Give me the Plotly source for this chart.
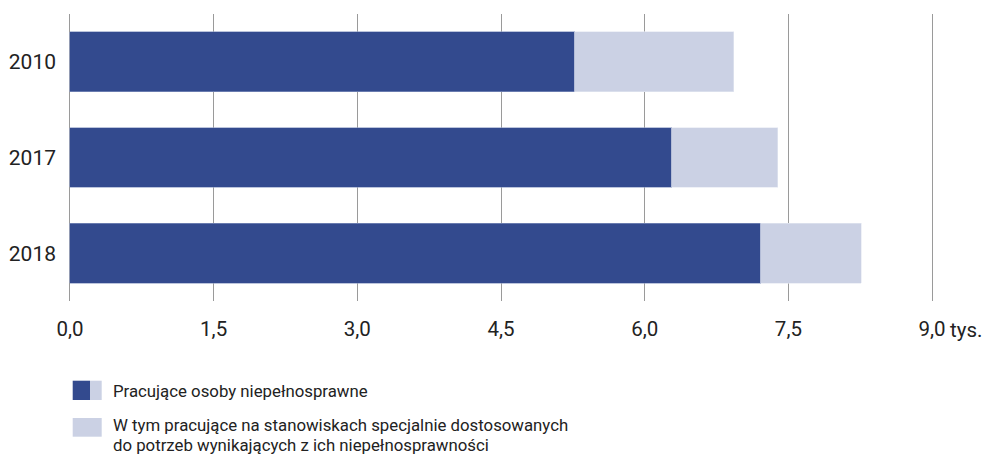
import plotly.graph_objects as go

years = ["2010", "2017", "2018"]
dark_vals = [5.27, 6.28, 7.21]
light_vals = [1.66, 1.11, 1.05]
x_ticks = [0, 1.5, 3.0, 4.5, 6.0, 7.5, 9.0]
x_tick_text = ["0,0", "1,5", "3,0", "4,5", "6,0", "7,5", "9,0"]
unit_label = "tys."
legend_1 = ["Pracujące osoby niepełnosprawne"]
legend_2 = ["W tym pracujące na stanowiskach specjalnie dostosowanych",
            "do potrzeb wynikających z ich niepełnosprawności"]

DARK = "#334a8e"
LIGHT = "#cbd1e4"
FONT = "Roboto"
TXT = "#222222"

W, H = 985, 456
L, R, T, B = 68, 51, 14, 155
pw, ph = W - L - R, H - T - B

def px(x):
    return (x - L) / pw

def py(y):
    return (H - B - y) / ph

fig = go.Figure()
fig.add_trace(go.Bar(y=years, x=dark_vals, orientation="h", marker=dict(color=DARK, line=dict(width=0.6, color="#8e9cc4")),
                     showlegend=False, hoverinfo="x+y"))
fig.add_trace(go.Bar(y=years, x=light_vals, orientation="h", marker=dict(color=LIGHT, line=dict(width=0.6, color="#e4e8f2")),
                     showlegend=False, hoverinfo="x+y"))

shapes = [
    dict(type="rect", xref="paper", yref="paper", x0=px(72.7), x1=px(90), y0=py(400), y1=py(380.7),
         fillcolor=DARK, line=dict(width=0)),
    dict(type="rect", xref="paper", yref="paper", x0=px(90), x1=px(101.7), y0=py(400), y1=py(380.7),
         fillcolor=LIGHT, line=dict(width=0)),
    dict(type="rect", xref="paper", yref="paper", x0=px(72.7), x1=px(101.7), y0=py(436.7), y1=py(418),
         fillcolor=LIGHT, line=dict(width=0)),
]
annotations = []
for text, ycen in zip(legend_1 + legend_2, [391, 425, 445]):
    annotations.append(dict(xref="paper", yref="paper", x=px(111), y=py(ycen), text=text, showarrow=False,
                            xanchor="left", yanchor="middle", align="left",
                            font=dict(family=FONT, size=16.8, color=TXT)))
annotations.append(dict(xref="x", yref="paper", x=x_ticks[-1], y=py(329.5), text=unit_label, showarrow=False,
                        xanchor="left", yanchor="middle", xshift=16, font=dict(family=FONT, size=20.5, color=TXT)))

fig.update_layout(
    width=W, height=H,
    margin=dict(l=L, r=R, t=T, b=B, autoexpand=False),
    barmode="stack", bargap=0.375,
    plot_bgcolor="white", paper_bgcolor="white",
    font=dict(family=FONT, size=20, color=TXT),
    shapes=shapes, annotations=annotations,
    xaxis=dict(range=[-0.02, 9.02], tickvals=x_ticks, ticktext=x_tick_text, showgrid=True, gridcolor="#9a9a9a",
               gridwidth=1, zeroline=False, showline=False, ticks="", ticklabelstandoff=13, automargin=False,
               tickfont=dict(family=FONT, size=20.5, color=TXT), fixedrange=True),
    yaxis=dict(categoryorder="array", categoryarray=years, autorange="reversed", showgrid=False,
               zeroline=False, showline=False, ticks="", ticklabelstandoff=11, automargin=False,
               tickfont=dict(family=FONT, size=21, color=TXT), fixedrange=True),
)
fig.write_html("out.html", config={"displayModeBar": False},
               post_script="document.body.style.margin='0';document.body.style.overflow='hidden';")
